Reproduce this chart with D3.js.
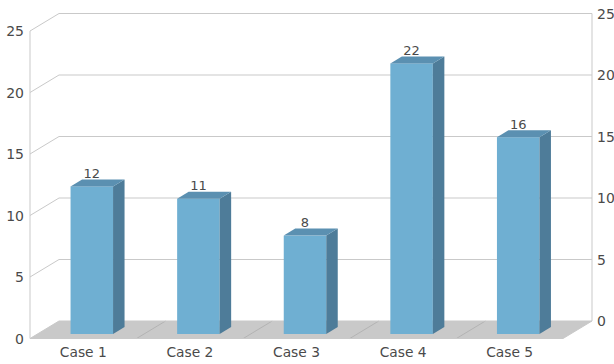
<!DOCTYPE html>
<html>
<head>
<meta charset="utf-8">
<script src="https://cdn.jsdelivr.net/npm/d3@7"></script>
<style>
  html, body { margin: 0; padding: 0; background: #fff; }
  svg { display: block; }
  text { font-family: "DejaVu Sans", sans-serif; fill: #4a4a4a; }
</style>
</head>
<body>
<script>
const categories = ["Case 1", "Case 2", "Case 3", "Case 4", "Case 5"];
const values = [12, 11, 8, 22, 16];
const yTicks = [0, 5, 10, 15, 20, 25];

const width = 614, height = 364;
// Oblique projection of the chart box: front plane plus a depth offset
const depth = { dx: 29, dy: -17.5 };
const barDepth = { dx: 11.5, dy: -7 };
const barInset = { dx: 7, dy: -4.5 };
const barWidth = 42.5;

const x = d3.scaleBand().domain(categories).range([30, 563]);
const y = d3.scaleLinear().domain([0, 25]).range([338.5, 31]);

const svg = d3.select("body").append("svg")
  .attr("width", width).attr("height", height);

const gridColor = "#c9c9c9";
const polyLine = d3.line();

// Floor
svg.append("path")
  .attr("d", polyLine([
    [x.range()[0], y(0)],
    [x.range()[0] + depth.dx, y(0) + depth.dy],
    [x.range()[1] + depth.dx, y(0) + depth.dy],
    [x.range()[1], y(0)]
  ]) + "Z")
  .attr("fill", "#c9c9c9");

// Band dividers across the floor
svg.append("g").selectAll("line")
  .data(categories.slice(1))
  .join("line")
  .attr("x1", d => x(d))
  .attr("y1", y(0))
  .attr("x2", d => x(d) + depth.dx)
  .attr("y2", y(0) + depth.dy)
  .attr("stroke", "#adadad")
  .attr("stroke-width", 0.8);

// Gridlines: left wall diagonal plus the back wall run
svg.append("g").selectAll("path")
  .data(yTicks)
  .join("path")
  .attr("d", d => polyLine([
    [x.range()[0], y(d)],
    [x.range()[0] + depth.dx, y(d) + depth.dy],
    [x.range()[1] + depth.dx, y(d) + depth.dy]
  ]))
  .attr("fill", "none")
  .attr("stroke", gridColor)
  .attr("stroke-width", 1);

// Front floor edge and the two vertical axes
svg.append("path")
  .attr("d", polyLine([[x.range()[0], y(25)], [x.range()[0], y(0)], [x.range()[1], y(0)],
                       [x.range()[1] + depth.dx, y(0) + depth.dy], [x.range()[1] + depth.dx, y(25) + depth.dy]]))
  .attr("fill", "none")
  .attr("stroke", gridColor)
  .attr("stroke-width", 1);

// Bars
const bars = svg.append("g").selectAll("g")
  .data(categories.map((c, i) => ({ c, v: values[i] })))
  .join("g");

const left = d => x(d.c) + x.bandwidth() / 2 - barWidth / 2 + barInset.dx + 1.5;
const top0 = d => y(d.v) + barInset.dy;
const bottom = () => y(0) + barInset.dy;

bars.append("rect")
  .attr("x", left)
  .attr("y", top0)
  .attr("width", barWidth)
  .attr("height", d => bottom() - top0(d))
  .attr("fill", "#6fafd2");

bars.append("path")
  .attr("d", d => {
    const r = left(d) + barWidth;
    return polyLine([
      [r, top0(d)],
      [r + barDepth.dx, top0(d) + barDepth.dy],
      [r + barDepth.dx, bottom() + barDepth.dy],
      [r, bottom()]
    ]) + "Z";
  })
  .attr("fill", "#4e7c99");

bars.append("path")
  .attr("d", d => {
    const l = left(d);
    return polyLine([
      [l, top0(d)],
      [l + barDepth.dx, top0(d) + barDepth.dy],
      [l + barWidth + barDepth.dx, top0(d) + barDepth.dy],
      [l + barWidth, top0(d)]
    ]) + "Z";
  })
  .attr("fill", "#5b90b1");

// Value labels sit on the back edge of each bar's top face
bars.append("text")
  .attr("x", d => left(d) + barWidth / 2)
  .attr("y", d => top0(d) + barDepth.dy - 1.5)
  .attr("text-anchor", "middle")
  .attr("font-size", 13)
  .text(d => d.v);

// Left value axis
svg.append("g").selectAll("text")
  .data(yTicks)
  .join("text")
  .attr("x", 24)
  .attr("y", d => y(d))
  .attr("dy", "0.36em")
  .attr("text-anchor", "end")
  .attr("font-size", 14)
  .text(d => d);

// Right value axis, on the back wall
svg.append("g").selectAll("text")
  .data(yTicks)
  .join("text")
  .attr("x", 597)
  .attr("y", d => y(d) + depth.dy)
  .attr("dy", "0.36em")
  .attr("font-size", 14)
  .text(d => d);

// Category labels
svg.append("g").selectAll("text")
  .data(categories)
  .join("text")
  .attr("x", d => x(d) + x.bandwidth() / 2)
  .attr("y", 357)
  .attr("text-anchor", "middle")
  .attr("font-size", 13.8)
  .text(d => d);
</script>
</body>
</html>
